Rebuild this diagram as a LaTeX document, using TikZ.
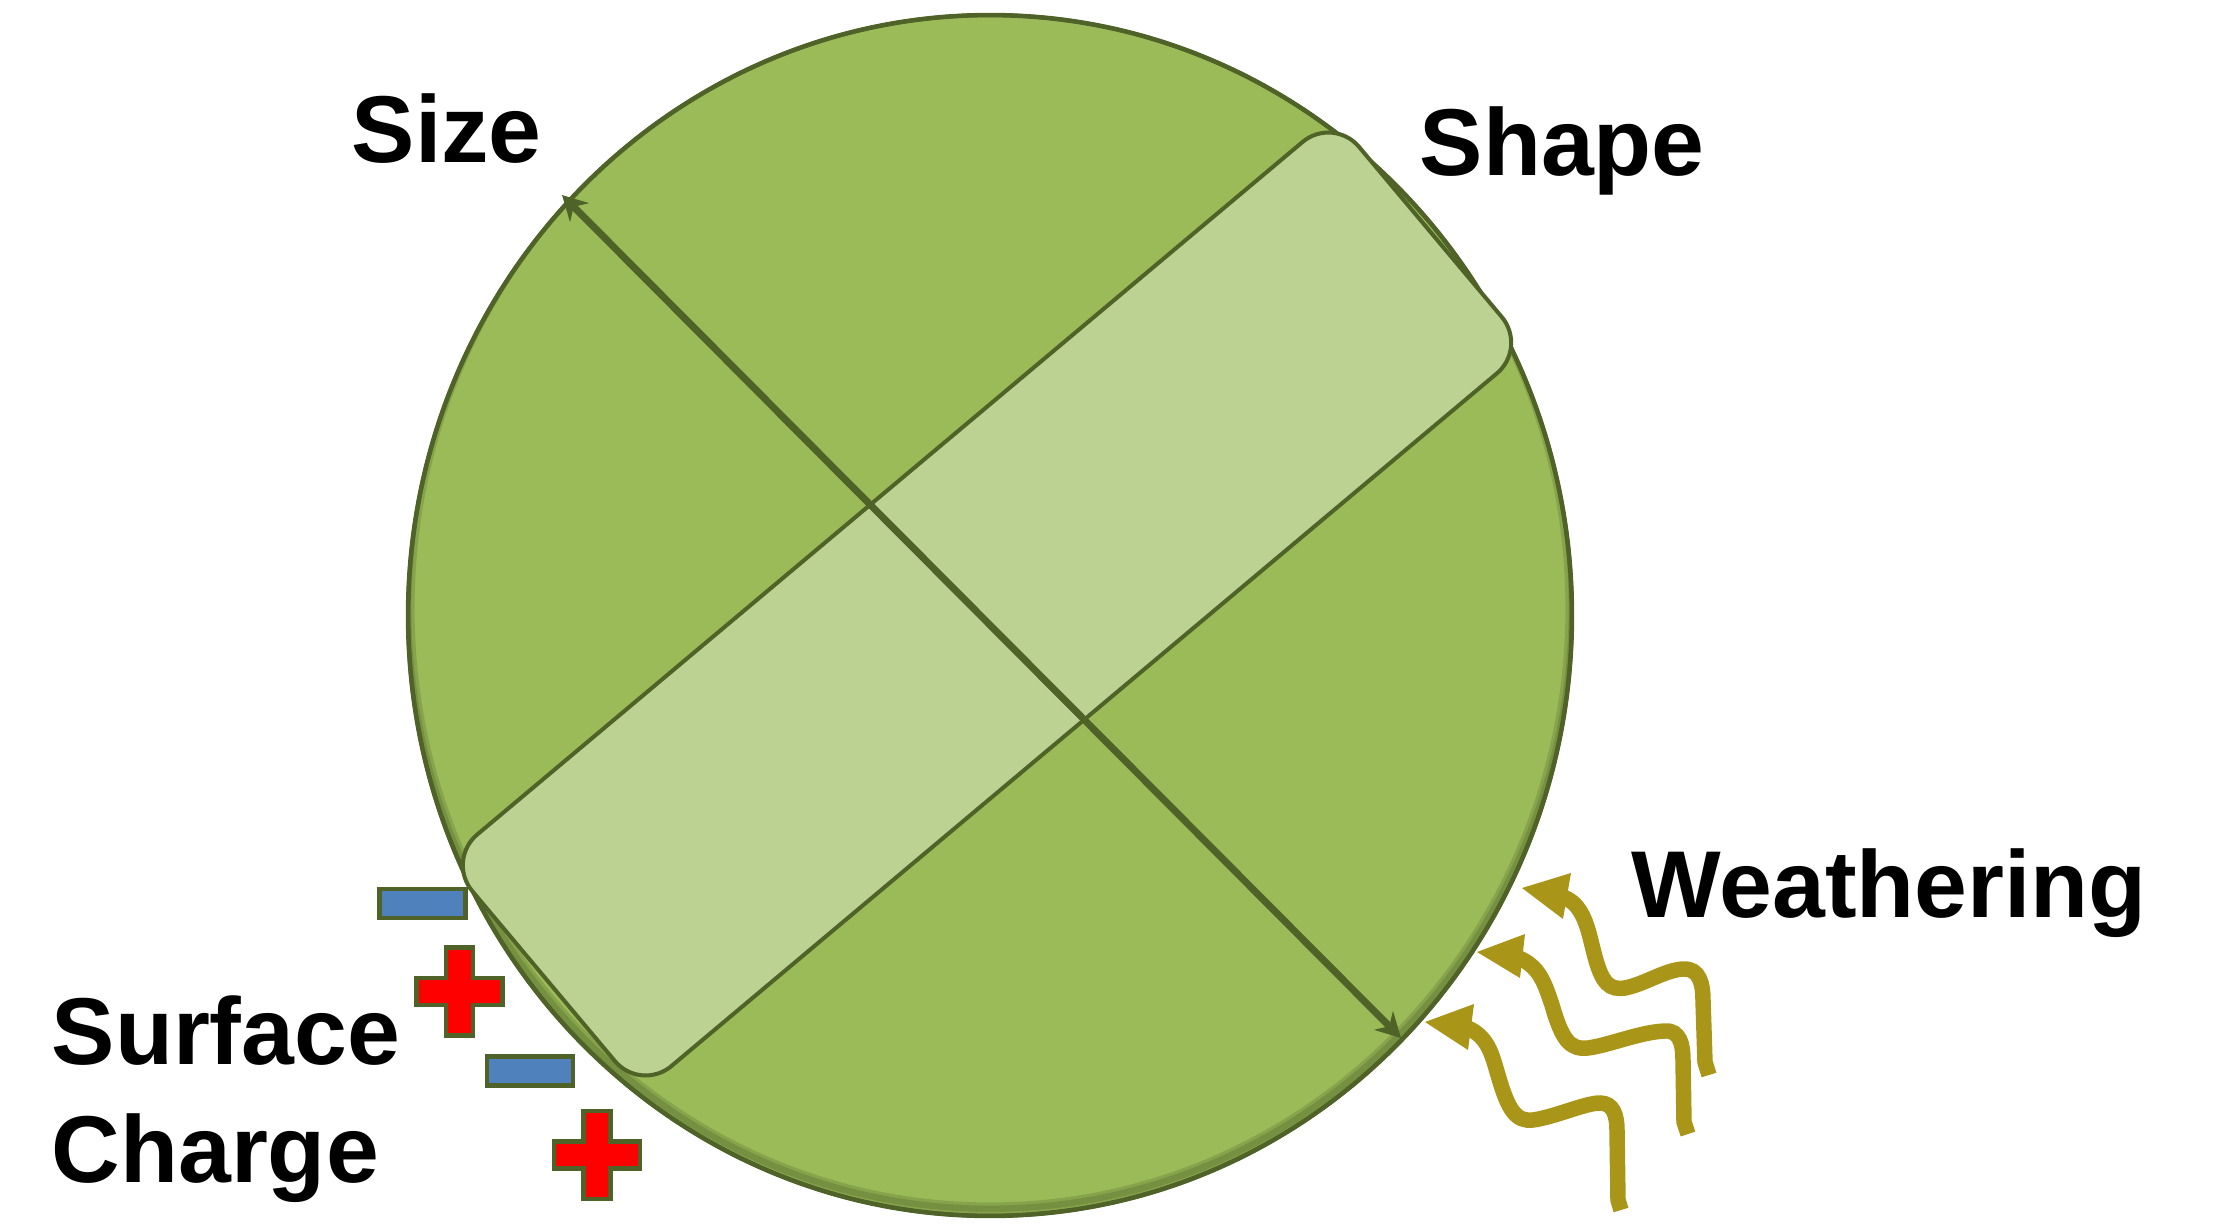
\documentclass[tikz,border=0pt]{standalone}
\usepackage{fontspec}
\setmainfont{Liberation Sans}
\usetikzlibrary{arrows.meta,shapes.geometric}
\definecolor{discgreen}{HTML}{9BBB59}
\definecolor{darkolive}{HTML}{4F6228}
\definecolor{bandfill}{HTML}{BCD293}
\definecolor{minusblue}{HTML}{4F81BD}
\definecolor{plusred}{HTML}{FF0000}
\definecolor{weather}{HTML}{A99518}
\tikzset{
  minussign/.pic={\draw[sign, fill=minusblue] (-43,-14.5) rectangle (43,14.5);},
  plussign/.pic={\draw[sign, fill=plusred] (-13.5,-44) -- (13.5,-44) -- (13.5,-13.5) -- (43,-13.5) -- (43,13.5) -- (13.5,13.5) -- (13.5,44) -- (-13.5,44) -- (-13.5,13.5) -- (-43,13.5) -- (-43,-13.5) -- (-13.5,-13.5) -- cycle;}
}
\begin{document}
\begin{tikzpicture}[x=0.01cm,y=-0.01cm,
  lbl/.style={font=\fontsize{27}{33.3}\selectfont\bfseries, inner sep=0pt, anchor=base west},
  sign/.style={draw=darkolive, line width=1.4pt, line join=miter},
  wave/.style={draw=weather, line width=4.4pt, line cap=butt},
  wavehead/.style={fill=weather},
  sizearrow/.style={draw=darkolive, line width=2pt, {Stealth[length=7pt,width=7.5pt]}-{Stealth[length=7pt,width=7.5pt]}},
]
\useasboundingbox (0,0) rectangle (2232,1224);
% disc
\node[ellipse, draw=darkolive, fill=discgreen, line width=1.2pt, minimum width=11.635cm, minimum height=12.005cm, inner sep=0pt] (disc) at (990,615.5) {};
\begin{scope}
  \clip (990,615.5) ellipse [x radius=581.75, y radius=600.25];
  \draw[darkolive, opacity=.25, line width=3.6pt] (990,608.5) ellipse [x radius=581.75, y radius=600.25];
  \draw[darkolive, opacity=.3, line width=1.8pt] (990,608.5) ellipse [x radius=581.75, y radius=600.25];
\end{scope}
\draw[darkolive, line width=1.2pt] (990,615.5) ellipse [x radius=581.75, y radius=600.25];
% band
\node[rectangle, rounded corners=0.4cm, rotate=40, draw=darkolive, fill=bandfill, line width=1.14pt, minimum width=11.57cm, minimum height=3.02cm, inner sep=0pt] (band) at (987,604) {};
% size arrow
\coordinate (sizeTop) at (562,195);
\coordinate (sizeBot) at (1401,1038);
\draw[sizearrow] (sizeTop) -- (sizeBot);
% charges
\pic (m1) at (422.5,903.5) {minussign};
\pic (p1) at (459.5,991.5) {plussign};
\pic (m2) at (530,1071) {minussign};
\pic (p2) at (597,1155) {plussign};
% weathering arrows
\coordinate (w1tip) at (1522,888);
\coordinate (w1a) at (1571,873);
\coordinate (w1b) at (1563,919);
\fill[wavehead] (w1tip) -- (w1a) -- (w1b) -- cycle;
\draw[wave] (1560,896) .. controls (1584,902) and (1588,930) .. (1594,953) .. controls (1602,985) and (1610,990) .. (1625,988) .. controls (1645,984) and (1665,970) .. (1683,969) .. controls (1700,968) and (1703,985) .. (1703,1000) -- (1705,1062) -- (1709,1075);
\coordinate (w2tip) at (1477,952);
\coordinate (w2a) at (1525,934);
\coordinate (w2b) at (1520,978);
\fill[wavehead] (w2tip) -- (w2a) -- (w2b) -- cycle;
\draw[wave] (1516,957) .. controls (1540,965) and (1545,985) .. (1552,1005) .. controls (1562,1040) and (1570,1050) .. (1588,1048) .. controls (1610,1045) and (1640,1032) .. (1665,1031) .. controls (1680,1030) and (1683,1045) .. (1683,1060) -- (1684,1122) -- (1688,1134);
\coordinate (w3tip) at (1425,1022);
\coordinate (w3a) at (1474,1004);
\coordinate (w3b) at (1468,1050);
\fill[wavehead] (w3tip) -- (w3a) -- (w3b) -- cycle;
\draw[wave] (1465,1027) .. controls (1488,1035) and (1492,1055) .. (1498,1075) .. controls (1508,1110) and (1516,1122) .. (1533,1120) .. controls (1555,1117) and (1585,1103) .. (1600,1103) .. controls (1613,1103) and (1617,1115) .. (1617,1130) -- (1618,1200) -- (1621,1210);
% labels
\node[lbl] (size) at (351,162) {Size};
\node[lbl] (shape) at (1419,175) {Shape};
\node[lbl] (weathering) at (1631,917) {Weathering};
\node[lbl, align=left] (charge) at (51,1182) {Surface\\Charge};
\end{tikzpicture}
\end{document}
